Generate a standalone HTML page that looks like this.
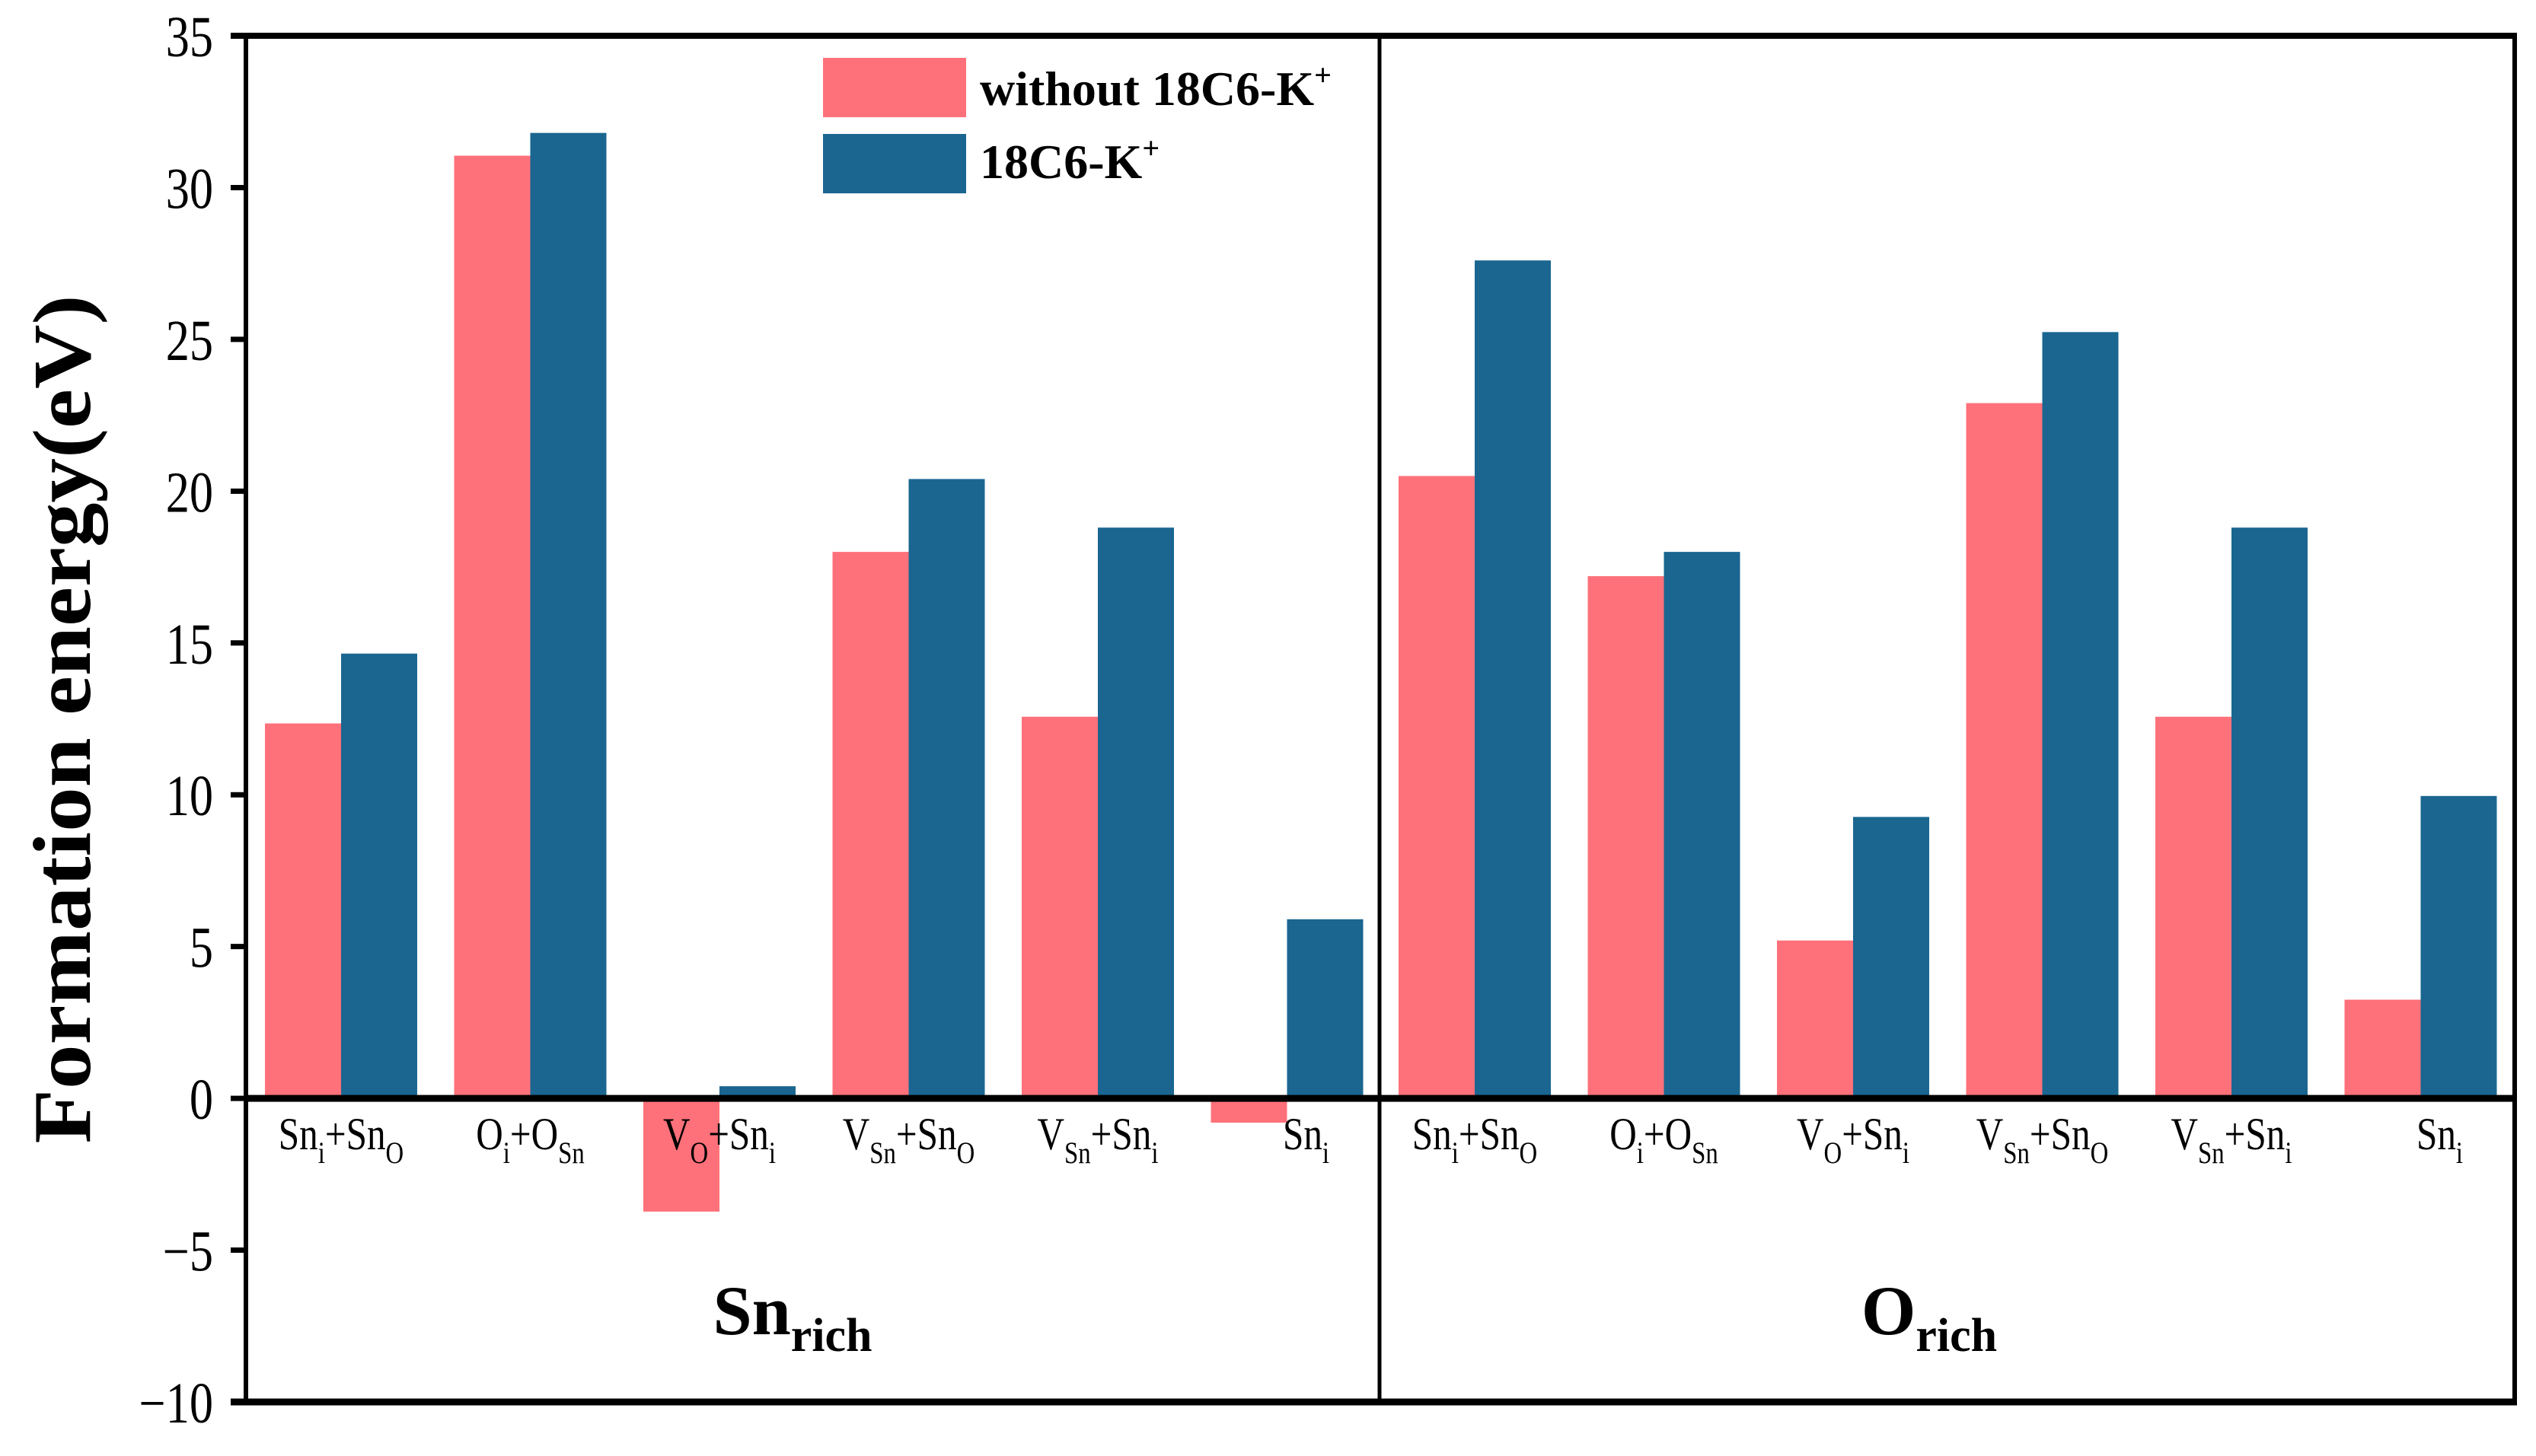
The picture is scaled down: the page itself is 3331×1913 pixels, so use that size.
<!DOCTYPE html>
<html><head><meta charset="utf-8"><style>
html,body{margin:0;padding:0;background:#fff;}
svg{display:block;font-family:"Liberation Serif",serif;}
</style></head><body>
<svg id="chart" width="3331" height="1913" viewBox="0 0 3331 1913" xmlns="http://www.w3.org/2000/svg">
<rect width="3331" height="1913" fill="#fff"/>
<g id="bars"></g>
<g id="axes"></g>
<g id="labels"></g>
<text transform="translate(118,945) rotate(-90)" text-anchor="middle" font-weight="bold" font-size="108" textLength="1115" lengthAdjust="spacingAndGlyphs">Formation energy(eV)</text>
<text x="1041" y="1753" text-anchor="middle" font-weight="bold" font-size="92">Sn<tspan font-size="62" dy="22">rich</tspan></text>
<text x="2534" y="1753" text-anchor="middle" font-weight="bold" font-size="92">O<tspan font-size="62" dy="22">rich</tspan></text>
<g>
<rect x="1081" y="76" width="188" height="78" fill="#fe717a"/>
<rect x="1081" y="176" width="188" height="78" fill="#1a6690"/>
<text x="1287" y="138" font-weight="bold" font-size="64">without 18C6-K<tspan font-size="40" dy="-26">+</tspan></text>
<text x="1287" y="234" font-weight="bold" font-size="64">18C6-K<tspan font-size="40" dy="-26">+</tspan></text>
</g>
</svg>
<script>
const categories = [
 ["Sn","i","+Sn","O"],["O","i","+O","Sn"],["V","O","+Sn","i"],["V","Sn","+Sn","O"],["V","Sn","+Sn","i"],["Sn","i","",""],
 ["Sn","i","+Sn","O"],["O","i","+O","Sn"],["V","O","+Sn","i"],["V","Sn","+Sn","O"],["V","Sn","+Sn","i"],["Sn","i","",""]
];
const withoutValues = [12.35,31.05,-3.73,18.0,12.57,-0.8, 20.5,17.2,5.2,22.9,12.57,3.25];
const withValues = [14.65,31.8,0.4,20.4,18.8,5.9, 27.6,18.0,9.27,25.24,18.8,9.96];
const yTicks = [35,30,25,20,15,10,5,0,-5,-10];
const yTickLabels = ["35","30","25","20","15","10","5","0","\u22125","\u221210"];

const NS = "http://www.w3.org/2000/svg";
const plotL = 323, plotR = 3303, plotT = 47, plotB = 1842, divX = 1812;
const yMin = -10, yMax = 35;
function y(v){ return plotB - (v - yMin) / (yMax - yMin) * (plotB - plotT); }
function xCenter(i){ return i < 6 ? 448 + i * 248.5 : 1937 + (i - 6) * 248.5; }
const barW = 100;
function mk(tag, attrs, parent){ const e = document.createElementNS(NS, tag); for (const k in attrs) e.setAttribute(k, attrs[k]); parent.appendChild(e); return e; }

const barsG = document.getElementById('bars');
categories.forEach((c, i) => {
  const cx = xCenter(i);
  const v1 = withoutValues[i], v2 = withValues[i];
  const r1 = mk('rect', {x: cx - barW, y: Math.min(y(v1), y(0)), width: barW, height: Math.abs(y(v1) - y(0)), fill: '#fe717a'}, barsG);
  
  
  const r2 = mk('rect', {x: cx, y: Math.min(y(v2), y(0)), width: barW, height: Math.abs(y(v2) - y(0)), fill: '#1a6690'}, barsG);
  
  
});

const ax = document.getElementById('axes');
let l;
l = mk('line', {x1: plotL, y1: plotT - 3, x2: plotL, y2: plotB + 3, stroke: '#000', 'stroke-width': 6}, ax);
 
l = mk('line', {x1: plotR, y1: plotT - 3, x2: plotR, y2: plotB + 3, stroke: '#000', 'stroke-width': 6}, ax);
 
l = mk('line', {x1: plotL - 20, y1: plotT, x2: plotR + 3, y2: plotT, stroke: '#000', 'stroke-width': 8}, ax);
 
l = mk('line', {x1: plotL - 20, y1: plotB, x2: plotR + 3, y2: plotB, stroke: '#000', 'stroke-width': 9}, ax);
 
l = mk('line', {x1: plotL, y1: y(0), x2: plotR, y2: y(0), stroke: '#000', 'stroke-width': 9}, ax);
 
l = mk('line', {x1: divX, y1: plotT, x2: divX, y2: plotB, stroke: '#000', 'stroke-width': 5}, ax);
 

yTicks.forEach((t, i) => {
  const tk = mk('line', {x1: plotL - 20, y1: y(t), x2: plotL, y2: y(t), stroke: '#000', 'stroke-width': 7}, ax);
  
  
  const tx = mk('text', {x: 0, y: 0, 'text-anchor': 'end', 'font-size': 76, transform: 'translate(280,' + (y(t) + 27) + ') scale(0.82,1)'}, ax);
  tx.textContent = yTickLabels[i];
  
  
});

const lg = document.getElementById('labels');
categories.forEach((c, i) => {
  const dx = (i === 5 || i === 11) ? 25 : 0;
  const t = mk('text', {x: 0, y: 0, 'text-anchor': 'middle', 'font-size': 60, transform: 'translate(' + (xCenter(i) + dx) + ',1510) scale(0.82,1)'}, lg);
  
  
  const a = document.createElementNS(NS, 'tspan'); a.textContent = c[0]; t.appendChild(a);
  const b = document.createElementNS(NS, 'tspan'); b.setAttribute('font-size', 40); b.setAttribute('dy', 18); b.textContent = c[1]; t.appendChild(b);
  if (c[2]) {
    const d = document.createElementNS(NS, 'tspan'); d.setAttribute('dy', -18); d.textContent = c[2]; t.appendChild(d);
    const e = document.createElementNS(NS, 'tspan'); e.setAttribute('font-size', 40); e.setAttribute('dy', 18); e.textContent = c[3]; t.appendChild(e);
  }
});
</script>
</body></html>
